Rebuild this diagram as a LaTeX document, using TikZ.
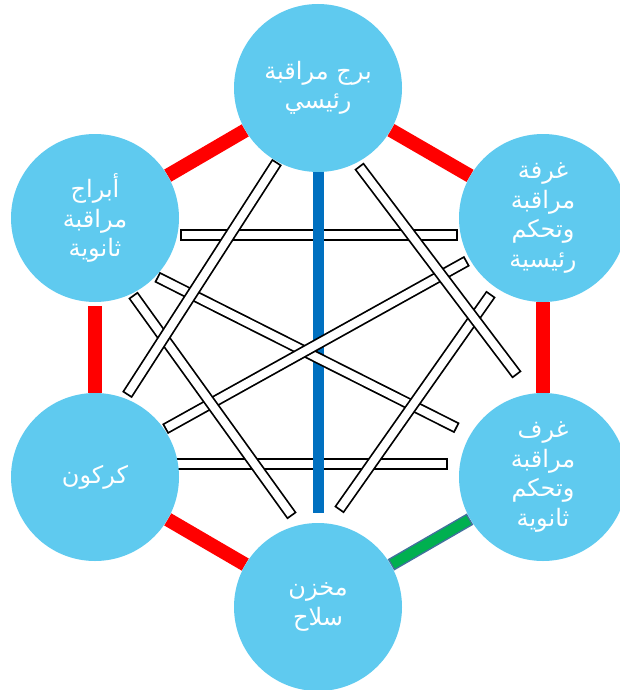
\documentclass[tikz,border=0pt]{standalone}
\usepackage{fontspec}
\newfontfamily\arabicfont[Script=Arabic]{DejaVu Sans}
\TeXXeTstate=1
\usetikzlibrary{backgrounds}
\definecolor{postblue}{HTML}{5FCAEF}
\definecolor{linkred}{HTML}{FF0000}
\definecolor{linkblue}{HTML}{0070C0}
\definecolor{linkgreen}{HTML}{00B050}
\definecolor{greenedge}{HTML}{41719C}
\newcommand{\Ar}[1]{\beginR #1\endR}

\begin{document}
\begin{tikzpicture}[x=1pt, y=-1pt,
  post/.style={circle, fill=postblue, minimum size=168pt, inner sep=0pt, text=white, align=center,
    font=\arabicfont\fontsize{24}{29.5}\selectfont},
  redlink/.style={draw=linkred, line width=14pt},
  bluelink/.style={draw=linkblue, line width=11pt},
  bar/.style={draw=black, line width=11.5pt,
    postaction={draw=white, line width=8pt, shorten <=1.8pt, shorten >=1.8pt}},
  greenbar/.style={draw=greenedge, line width=13pt,
    postaction={draw=linkgreen, line width=10pt, shorten <=1.5pt, shorten >=1.5pt}}]
  \useasboundingbox (0,0) rectangle (620,690);

  \node[post] (mainTower) at (318,88) {\Ar{برج مراقبة}\\\Ar{رئيسي}};
  \node[post] (secTowers) at (95,218) {\Ar{أبراج}\\\Ar{مراقبة}\\\Ar{ثانوية}};
  \node[post] (mainRoom) at (543,218) {\Ar{غرفة}\\\Ar{مراقبة}\\\Ar{وتحكم}\\\Ar{رئيسية}};
  \node[post] (kirkuk) at (95,477) {\Ar{كركون}};
  \node[post] (secRooms) at (543,477) {\Ar{غرف}\\\Ar{مراقبة}\\\Ar{وتحكم}\\\Ar{ثانوية}};
  \node[post] (armory) at (318,607) {\Ar{مخزن}\\\Ar{سلاح}};

  % free ends of the crossing bars
  \coordinate (hTopA) at (180,235);  \coordinate (hTopB) at (458,235);
  \coordinate (hLowA) at (170,464);  \coordinate (hLowB) at (448,464);
  \coordinate (tkA) at (277,162);    \coordinate (tkB) at (127,395);
  \coordinate (trA) at (359,166);    \coordinate (trB) at (517,375);
  \coordinate (srA) at (157,277);    \coordinate (srB) at (457,428);
  \coordinate (saA) at (133,295);    \coordinate (saB) at (292,516);
  \coordinate (mkA) at (467,261);    \coordinate (mkB) at (165,429);
  \coordinate (maA) at (491,294);    \coordinate (maB) at (339,510);

  \begin{scope}[on background layer]
    \draw[redlink] (mainTower) -- (secTowers);
    \draw[redlink] (mainTower) -- (mainRoom);
    \draw[redlink, shorten <=4pt] (secTowers) -- (kirkuk);
    \draw[redlink] (mainRoom) -- (secRooms);
    \draw[redlink] (kirkuk) -- (armory);
    \draw[greenbar] (armory) -- (secRooms);
    \draw[bar] (hTopA) -- (hTopB);
    \draw[bar] (hLowA) -- (hLowB);
    \draw[bluelink, shorten <=-3pt, shorten >=10pt] (mainTower.south) -- (armory.north);
    \draw[bar] (srA) -- (srB);
    \draw[bar] (mkA) -- (mkB);
    \draw[bar] (saA) -- (saB);
    \draw[bar] (maA) -- (maB);
    \draw[bar] (tkA) -- (tkB);
    \draw[bar] (trA) -- (trB);
  \end{scope}
\end{tikzpicture}
\end{document}
